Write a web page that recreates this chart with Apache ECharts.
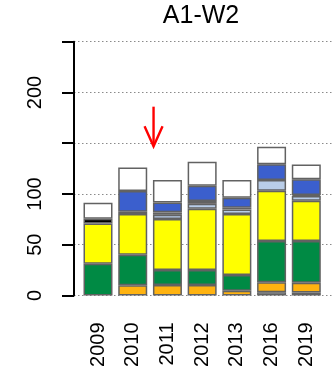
<!DOCTYPE html>
<html>
<head>
<meta charset="utf-8">
<script src="https://cdn.jsdelivr.net/npm/echarts@6/dist/echarts.min.js"></script>
<style>
  html, body { margin: 0; padding: 0; background: #fff; }
  #chart { width: 333px; height: 373px; }
</style>
</head>
<body>
<div id="chart"></div>
<script>
// Survey years on the x axis
const years = ['2009', '2010', '2011', '2012', '2013', '2016', '2019'];

// Stacked components, listed bottom to top
const grey      = [0, 0, 0, 0, 0, 3.1, 3];
const orange    = [0, 10, 10.3, 10.3, 4.7, 9.9, 9.6];
const green     = [31.3, 30.2, 14.8, 14.8, 15.5, 40.6, 41];
const yellow    = [39.7, 40, 50.2, 60.4, 60, 49.5, 39.7];
const lightBlue = [0, 0, 4.2, 4.8, 4.6, 10.6, 4.6];
const red       = [0, 0, 0, 2.9, 0, 0, 0];
const black     = [4.6, 2.3, 2.4, 0, 1.6, 0, 1];
const blue      = [0, 20.4, 9.8, 15, 9.9, 15.7, 15.5];
const white     = [15.7, 23.3, 22, 23.5, 17.4, 17.1, 14.7];

// Y axis ticks and the ones that carry a label
const yTicks = [0, 50, 100, 150, 200, 250];
const yLabelled = [0, 50, 100, 200];

// Red marker arrow: points down at 2011, tip and tail in axis units
const arrowYear = '2011';
const arrowTip = 147;
const arrowTail = 186;

const layers = [
  { name: 'grey', data: grey, color: '#bfc6c8' },
  { name: 'orange', data: orange, color: '#ffb310' },
  { name: 'green', data: green, color: '#008a44' },
  { name: 'yellow', data: yellow, color: '#ffff00' },
  { name: 'lightblue', data: lightBlue, color: '#b9cde8' },
  { name: 'red', data: red, color: '#ff0000' },
  { name: 'black', data: black, color: '#000000' },
  { name: 'blue', data: blue, color: '#3b5fcd' },
  { name: 'white', data: white, color: '#ffffff' }
];

const FONT = '"Liberation Sans", Arial, sans-serif';
const TOP = 41.7, BOTTOM = 77.5;

const chart = echarts.init(document.getElementById('chart'), null, { renderer: 'canvas' });

const series = layers.map(l => ({
  name: l.name,
  type: 'bar',
  stack: 'total',
  xAxisIndex: 1,
  yAxisIndex: 1,
  barWidth: 29,
  data: l.data.map(v => (v === 0 ? '-' : v)),
  itemStyle: { color: l.color, borderColor: '#626262', borderWidth: 1.5 },
  silent: true,
  animation: false
}));

chart.setOption({
  animation: false,
  grid: [
    { left: 74, right: 0, top: TOP, bottom: BOTTOM },
    { left: 80.65, width: 243, top: TOP, bottom: BOTTOM }
  ],
  xAxis: [
    { gridIndex: 0, type: 'value', show: false, min: 0, max: 1 },
    {
      gridIndex: 1, type: 'category', data: years,
      axisLine: { show: false }, axisTick: { show: false },
      axisLabel: { rotate: 90, margin: 27, fontSize: 20, color: '#000', fontFamily: FONT }
    }
  ],
  yAxis: [
    {
      gridIndex: 0, type: 'value', min: yTicks[0], max: yTicks[yTicks.length - 1], interval: 50,
      axisLine: { show: true, lineStyle: { color: '#000', width: 2 } },
      axisTick: { show: true, length: 12, lineStyle: { color: '#000', width: 2 } },
      axisLabel: {
        rotate: 90, margin: 29, fontSize: 20, color: '#000', fontFamily: FONT,
        formatter: v => (yLabelled.includes(v) ? String(v) : '')
      },
      splitLine: { show: true, lineStyle: { color: '#8a8a8a', width: 1, type: [1.5, 2.5] } }
    },
    { gridIndex: 1, type: 'value', min: 0, max: 250, show: false }
  ],
  series: series
});

// Title and arrow drawn in pixel space; the arrow is placed from its axis position
const tip = chart.convertToPixel({ xAxisIndex: 1, yAxisIndex: 1 }, [arrowYear, arrowTip]);
const tail = chart.convertToPixel({ xAxisIndex: 1, yAxisIndex: 1 }, [arrowYear, arrowTail]);
const step = chart.convertToPixel({ xAxisIndex: 1, yAxisIndex: 1 }, ['2012', 0])[0] - tip[0];
const ax = tip[0] - 0.4 * step;
const arrowStyle = { stroke: '#ff0000', lineWidth: 2.4, fill: 'none' };
chart.setOption({
  graphic: [
    {
      type: 'text', x: 201, y: 16,
      style: { text: 'A1-W2', font: '25px ' + FONT, fill: '#000', align: 'center', verticalAlign: 'middle' }
    },
    { type: 'line', shape: { x1: ax, y1: tail[1], x2: ax, y2: tip[1] }, style: arrowStyle, z: 100 },
    { type: 'polyline', shape: { points: [[ax - 9, tip[1] - 20], [ax, tip[1]], [ax + 9, tip[1] - 20]] }, style: arrowStyle, z: 100 }
  ]
});
</script>
</body>
</html>
